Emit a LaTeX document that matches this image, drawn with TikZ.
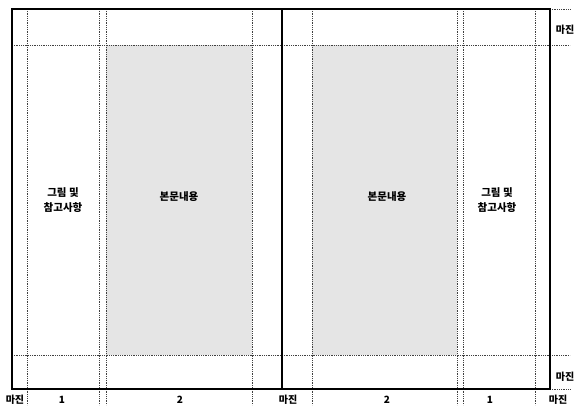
\documentclass[tikz,border=0pt]{standalone}
\usepackage{fontspec}
\newfontfamily\kr{Noto Sans CJK KR}
\begin{document}
\begin{tikzpicture}[x=1pt,y=-1pt,
  thickline/.style={line width=1.6pt, line cap=rect},
  guide/.style={densely dotted, line width=0.8pt, black!75},
  textarea/.style={fill=black!10, draw=none},
  lbl/.style={font=\kr\bfseries\fontsize{10}{13}\selectfont, align=center, inner sep=1pt},
  big/.style={lbl, font=\kr\bfseries\fontsize{10.5}{15}\selectfont}]
\useasboundingbox (0,0) rectangle (577,408);
% shaded body text areas
\fill[textarea] (106,45) rectangle (252,355);
\fill[textarea] (312,45) rectangle (457,355);
% horizontal guides
\draw[guide] (12,45) -- (570,45);
\draw[guide] (12,355) -- (570,355);
\draw[guide] (550,9) -- (570,9);
\draw[guide] (550,389) -- (570,389);
% vertical guides
\foreach \x in {27,99,106,252,312,457,463,535}
  \draw[guide] (\x,9) -- (\x,405);
% page outlines
\draw[thickline] (12,9) rectangle (550,389);
\draw[thickline] (282,9) -- (282,389);
% labels
\node[big] (fig1) at (63,200) {그림 및\\참고사항};
\node[big] (body1) at (179,197) {본문내용};
\node[big] (body2) at (387,197) {본문내용};
\node[big] (fig2) at (497,200) {그림 및\\참고사항};
\node[lbl] (m1) at (15,400) {마진};
\node[lbl] (c1) at (62,400) {1};
\node[lbl] (c2) at (180,400) {2};
\node[lbl] (m2) at (288,400) {마진};
\node[lbl] (c3) at (387,400) {2};
\node[lbl] (c4) at (490,400) {1};
\node[lbl] (m3) at (558,400) {마진};
\node[lbl] (m4) at (565,30) {마진};
\node[lbl] (m5) at (565,377) {마진};
\end{tikzpicture}
\end{document}
